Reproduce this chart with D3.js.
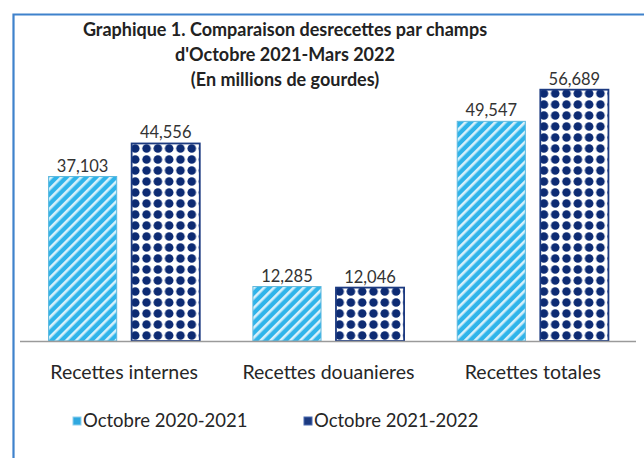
<!DOCTYPE html>
<html>
<head>
<meta charset="utf-8">
<script src="https://cdn.jsdelivr.net/npm/d3@7"></script>
<style>
  body { margin: 0; background: #fff; }
  svg { display: block; }
  text { font-family: Lato, "Open Sans", sans-serif; }
</style>
</head>
<body>
<svg width="644" height="458"></svg>
<script>
const categories = ["Recettes internes", "Recettes douanieres", "Recettes totales"];
const seriesNames = ["Octobre 2020-2021", "Octobre 2021-2022"];
const values2021 = [37103, 12285, 49547];
const values2022 = [44556, 12046, 56689];
const titleLines = [
  "Graphique 1. Comparaison desrecettes par champs",
  "d'Octobre 2021-Mars 2022",
  "(En millions de gourdes)"
];

const svg = d3.select("svg");
const defs = svg.append("defs");

// stripes for first series
let stripes = defs.append("pattern")
  .attr("id", "stripes")
  .attr("patternUnits", "userSpaceOnUse")
  .attr("width", 7).attr("height", 7)
  .attr("patternTransform", "rotate(45)");
stripes.append("rect").attr("width", 7).attr("height", 7).attr("fill", "#2fb4ea");
stripes.append("rect").attr("x", 0).attr("width", 2.6).attr("height", 7).attr("fill", "#d8f1fb");

// dots for second series
let dots = defs.append("pattern")
  .attr("id", "dots")
  .attr("patternUnits", "userSpaceOnUse")
  .attr("width", 11.3).attr("height", 11)
  .attr("x", 2).attr("y", 0);
dots.append("rect").attr("width", 11.3).attr("height", 11).attr("fill", "#ffffff");
dots.append("circle").attr("cx", 5.6).attr("cy", 5.5).attr("r", 4.3).attr("fill", "#0d2b73");

// frame
svg.append("path")
  .attr("d", "M13.5,458 L13.5,14.5 L650,14.5")
  .attr("fill", "none")
  .attr("stroke", "#3f82cc")
  .attr("stroke-width", 2.2);

const x0 = d3.scaleBand().domain(categories).range([22, 635]).paddingInner(0.26).paddingOuter(0.13);
const x1 = d3.scaleBand().domain([0, 1]).range([0, x0.bandwidth()]).paddingInner(0.18);
const y = d3.scaleLinear().domain([0, 60000]).range([341, 75]);

const rows = categories.map((c, i) => ({ cat: c, vals: [values2021[i], values2022[i]] }));
const fmt = d3.format(",");

const groups = svg.selectAll("g.grp")
  .data(rows)
  .enter()
  .append("g")
  .attr("class", "grp")
  .attr("transform", d => `translate(${x0(d.cat)},0)`);

groups.selectAll("rect")
  .data(d => d.vals.map((v, k) => ({ v, k })))
  .enter()
  .append("rect")
  .attr("x", d => x1(d.k))
  .attr("y", d => y(d.v))
  .attr("width", x1.bandwidth())
  .attr("height", d => y(0) - y(d.v))
  .attr("fill", d => d.k === 0 ? "url(#stripes)" : "url(#dots)")
  .attr("stroke", d => d.k === 0 ? "#5fb8dd" : "#1c3a80")
  .attr("stroke-width", d => d.k === 0 ? 1 : 1.8);

groups.selectAll("text.val")
  .data(d => d.vals.map((v, k) => ({ v, k })))
  .enter()
  .append("text")
  .attr("class", "val")
  .attr("x", d => x1(d.k) + x1.bandwidth() / 2)
  .attr("y", d => y(d.v) - 5)
  .attr("text-anchor", "middle")
  .attr("font-size", 16.5)
  .attr("fill", "#333")
  .text(d => fmt(d.v));

// baseline
svg.append("line")
  .attr("x1", 20).attr("x2", 636)
  .attr("y1", y(0) + 0.5).attr("y2", y(0) + 0.5)
  .attr("stroke", "#9a9a9a").attr("stroke-width", 1.5);

// category labels
svg.selectAll("text.cat")
  .data(categories)
  .enter()
  .append("text")
  .attr("class", "cat")
  .attr("x", d => x0(d) + x0.bandwidth() / 2)
  .attr("y", 379)
  .attr("text-anchor", "middle")
  .attr("font-size", 19.5)
  .attr("fill", "#262626")
  .text(d => d);

// title
svg.selectAll("text.title")
  .data(titleLines)
  .enter()
  .append("text")
  .attr("class", "title")
  .attr("x", 285)
  .attr("y", (d, i) => 36 + i * 25)
  .attr("text-anchor", "middle")
  .attr("font-size", 18)
  .attr("font-weight", "bold")
  .attr("fill", "#222")
  .text(d => d);

// legend
const legendX = [73, 304];
const leg = svg.selectAll("g.leg")
  .data(seriesNames)
  .enter()
  .append("g")
  .attr("class", "leg")
  .attr("transform", (d, i) => `translate(${legendX[i]},417)`);
leg.append("rect")
  .attr("width", 8).attr("height", 8)
  .attr("fill", (d, i) => i === 0 ? "#2fa8df" : "#1c3a80")
  .attr("stroke", (d, i) => i === 0 ? "#8fd0ee" : "#4a6bb0");
leg.append("text")
  .attr("x", 10).attr("y", 10)
  .attr("font-size", 18.5)
  .attr("fill", "#262626")
  .text(d => d);
</script>
</body>
</html>
